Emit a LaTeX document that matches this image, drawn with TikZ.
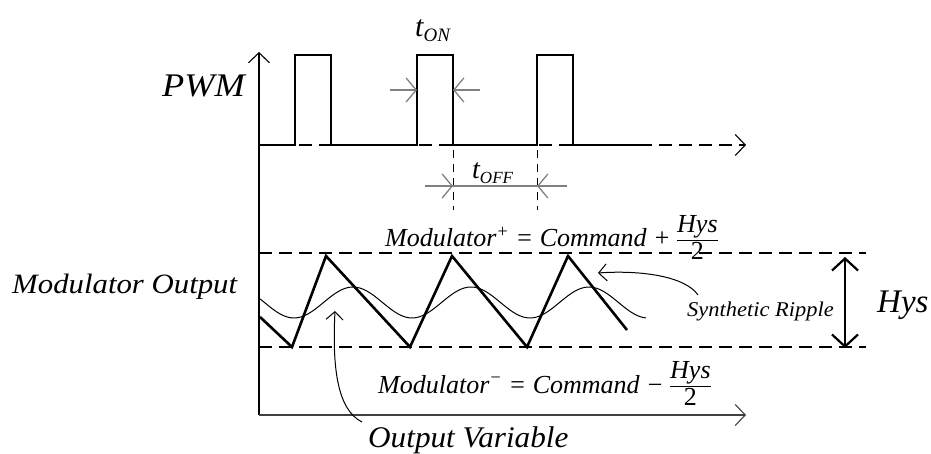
\documentclass[tikz,border=0pt]{standalone}
\usepackage{fontspec}
\setmainfont{Liberation Serif}
\newfontfamily\wideA{Liberation Serif}[FakeStretch=1.1]
\newfontfamily\wideB{Liberation Serif}[FakeStretch=1.07]
\newfontfamily\wideC{Liberation Serif}[FakeStretch=1.04]
\usetikzlibrary{arrows.meta}
\newcommand{\hfr}[2]{{\setlength{\arrayrulewidth}{1.1pt}\renewcommand{\arraystretch}{0.85}\begin{tabular}{@{}c@{}}#1\\\hline #2\end{tabular}}}
\begin{document}
\begin{tikzpicture}[x=1pt,y=-1pt,
  axis/.style={line width=1.1pt, black},
  barb/.style={-{Straight Barb[length=10pt,width=21pt,line width=1.1pt]}},
  thick2/.style={line width=2.6pt, line join=miter, line cap=rect},
  ripple/.style={line width=1pt},
  dashln/.style={line width=1.1pt, dash pattern=on 13pt off 7pt},
  extln/.style={line width=1pt, dash pattern=on 8pt off 6pt},
  dimln/.style={line width=1.6pt, black!50},
  dimtip/.style={-{Straight Barb[length=10pt,width=24pt,line width=1.3pt]}},
  lbl/.style={inner sep=0pt, anchor=base west, font=\itshape}
]
\useasboundingbox (0,0) rectangle (931,454);
% axes
\coordinate (O) at (259,415);
\coordinate (ytop) at (259,52);
\coordinate (xend) at (746,415);
\draw[axis, barb] (O) -- (ytop);
\draw[axis, line width=1.5pt, black!75, barb] (O) -- (xend);
% PWM baseline
\coordinate (b0) at (259,145);
\coordinate (bend) at (746,145);
\draw[dashln, barb] (b0) -- (bend);
\draw[thick2] (b0) -- (295,145) -- (295,55) -- (331,55) -- (331,145) -- (417,145) -- (417,55) -- (453,55) -- (453,145) -- (537,145) -- (537,55) -- (573,55) -- (573,145) -- (640,145);
% t_ON
\coordinate (on1) at (417,90);
\coordinate (on2) at (453,90);
\draw[dimln, dimtip] (390,90) -- (on1);
\draw[dimln, dimtip] (480,90) -- (on2);
\node[lbl, font=\itshape\fontsize{30}{34}\selectfont] (ton) at (415,37) {t\raisebox{-5pt}{\fontsize{19}{20}\selectfont ON}};
% t_OFF
\draw[extln] (453,150) -- (453,210);
\draw[extln] (537,150) -- (537,210);
\coordinate (off1) at (453,186);
\coordinate (off2) at (537,186);
\draw[dimln] (425,186) -- (567,186);
\draw[dimln, dimtip] (425,186) -- (off1);
\draw[dimln, dimtip] (567,186) -- (off2);
\node[lbl, font=\itshape\fontsize{28}{32}\selectfont] (toff) at (472,179) {t\raisebox{-5pt}{\fontsize{17}{18}\selectfont OFF}};
% labels
\node[lbl, font=\wideA\itshape\fontsize{33}{36}\selectfont] (pwm) at (162,97) {PWM};
\node[lbl, font=\wideA\itshape\fontsize{28}{32}\selectfont] (mo) at (12,293) {Modulator Output};
% hysteresis band
\draw[dashln] (259,253) -- (866,253);
\draw[dashln] (259,347) -- (866,347);
\node[lbl, font=\itshape\fontsize{26}{30}\selectfont] (eqp) at (385,247) {Modulator\textsuperscript{+} = Command + \hfr{Hys}{\upshape 2}};
\node[lbl, font=\itshape\fontsize{26}{30}\selectfont] (eqm) at (378,393) {Modulator\textsuperscript{−} = Command − \hfr{Hys}{\upshape 2}};
% waveforms
\draw[thick2, line cap=butt] (260,317) -- (292,347) -- (326,256) -- (410,347) -- (452,256) -- (527,347) -- (568,256) -- (627,330);
\draw[ripple] plot[domain=260:646, samples=120, smooth] (\x, {302.5 - 15.5*cos(3.050847*(\x-353))});
% Synthetic ripple
\node[lbl, font=\wideB\itshape\fontsize{21}{24}\selectfont] (sr) at (687,316) {Synthetic Ripple};
\coordinate (srs) at (698,295);
\coordinate (srt) at (598,273);
\draw[ripple, -{Straight Barb[length=8pt,width=17pt,line width=1pt]}] (srs) .. controls (685,276) and (640,270) .. (srt);
% Output variable
\node[lbl, font=\wideC\itshape\fontsize{30}{34}\selectfont] (ov) at (368,447) {Output Variable};
\coordinate (ovs) at (362,422);
\coordinate (ovt) at (335,311);
\draw[ripple, -{Straight Barb[length=8pt,width=17pt,line width=1pt]}] (ovs) .. controls (338,410) and (332,370) .. (ovt);
% Hys arrow
\coordinate (h1) at (845,257);
\coordinate (h2) at (845,348);
\draw[line width=2.2pt, {Straight Barb[length=12pt,width=26pt,line width=2.2pt]}-{Straight Barb[length=12pt,width=26pt,line width=2.2pt]}] (h1) -- (h2);
\node[lbl, font=\itshape\fontsize{33}{36}\selectfont] (hys) at (877,312) {Hys};
\end{tikzpicture}
\end{document}
